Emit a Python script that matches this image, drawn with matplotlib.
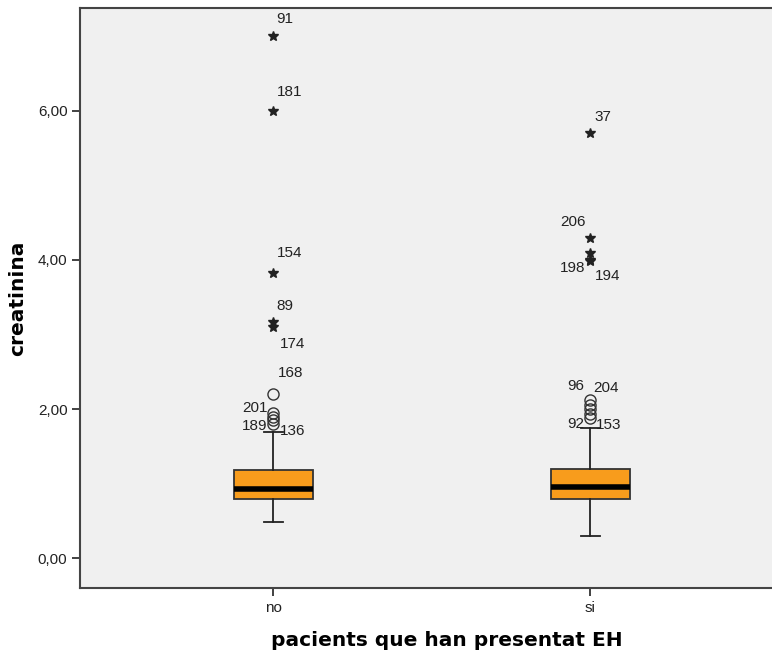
import matplotlib.pyplot as plt

# categorias e estatisticas das caixas
categorias = ['no', 'si']
q1 = [0.80, 0.79]
mediana = [0.93, 0.95]
q3 = [1.18, 1.19]
bigode_inf = [0.48, 0.30]
bigode_sup = [1.69, 1.74]

# valores atipicos (circulos) e extremos (estrelas) com o numero do caso
atip_no = [2.20, 1.95, 1.90, 1.85, 1.80]
atip_no_id = ['168', '201', '', '189', '136']
ext_no = [7.00, 6.00, 3.83, 3.17, 3.10]
ext_no_id = ['91', '181', '154', '89', '174']

atip_si = [2.12, 2.06, 2.00, 1.94, 1.88]
atip_si_id = ['96', '204', '', '92', '153']
ext_si = [5.70, 4.30, 4.10, 4.00, 3.98]
ext_si_id = ['37', '206', '', '198', '194']

yticks = [0, 2, 4, 6]
ytick_labels = ['0,00', '2,00', '4,00', '6,00']

# deslocamentos das etiquetas (pixels)
off_atip_no = [(4, 21, 'left'), (-6, 5, 'right'), (0, 0, 'left'), (-6, -6, 'right'), (6, -7, 'left')]
off_ext_no = [(3, 17, 'left'), (3, 19, 'left'), (3, 20, 'left'), (3, 16, 'left'), (6, -17, 'left')]
off_atip_si = [(-6, 14, 'right'), (3, 17, 'left'), (0, 0, 'left'), (-6, -10, 'right'), (5, -7, 'left')]
off_ext_si = [(4, 16, 'left'), (-5, 16, 'right'), (0, 0, 'left'), (-5, -8, 'right'), (4, -15, 'left')]

fig = plt.figure(figsize=(7.72, 6.66), dpi=100)
# o eixo continua para la da margem direita (grafico cortado)
ax = fig.add_axes([80 / 772, 78 / 666, 734 / 772, 580 / 666])
ax.set_facecolor('#f0f0f0')

stats = []
for i in range(2):
    stats.append({'med': mediana[i], 'q1': q1[i], 'q3': q3[i],
                  'whislo': bigode_inf[i], 'whishi': bigode_sup[i], 'fliers': []})

ax.bxp(stats, positions=[1, 2], widths=0.25, capwidths=0.06, patch_artist=True,
       boxprops=dict(facecolor='#f89c1c', edgecolor='#333333', linewidth=1.3),
       medianprops=dict(color='black', linewidth=4),
       whiskerprops=dict(color='#222222', linewidth=1.3),
       capprops=dict(color='#222222', linewidth=1.3))

grupos = [(1, atip_no, atip_no_id, off_atip_no, ext_no, ext_no_id, off_ext_no),
          (2, atip_si, atip_si_id, off_atip_si, ext_si, ext_si_id, off_ext_si)]
for pos, atip, atip_id, off_a, ext, ext_id, off_e in grupos:
    ax.plot([pos] * len(atip), atip, 'o', mfc='none', mec='#333333', ms=8, mew=1.0)
    ax.plot([pos] * len(ext), ext, '*', color='#222222', ms=7)
    for v, t, (dx, dy, ha) in zip(atip + ext, atip_id + ext_id, off_a + off_e):
        if t:
            ax.annotate(t, (pos, v), xytext=(dx, dy), textcoords='offset pixels',
                        ha=ha, va='center', fontsize=11, color='#222222',
                        family='Liberation Sans')

ax.set_xlim(0.39, 2.705)
ax.set_ylim(-0.40, 7.38)
ax.set_xticks([1, 2])
ax.set_xticklabels(categorias)
ax.set_yticks(yticks)
ax.set_yticklabels(ytick_labels)
for lab in ax.get_xticklabels() + ax.get_yticklabels():
    lab.set_family('Liberation Sans')
    lab.set_fontsize(11)
    lab.set_color('#222222')
ax.tick_params(length=6, width=1.3, color='#333333', pad=3)

for s in ['left', 'top', 'bottom']:
    ax.spines[s].set_linewidth(1.5)
    ax.spines[s].set_color('#444444')
ax.spines['right'].set_visible(False)

ax.set_xlabel('pacients que han presentat EH', fontsize=14.5, fontweight='bold', labelpad=12)
ax.set_ylabel('creatinina', fontsize=14.5, fontweight='bold', labelpad=8)

fig.savefig('out.png', dpi=100)
